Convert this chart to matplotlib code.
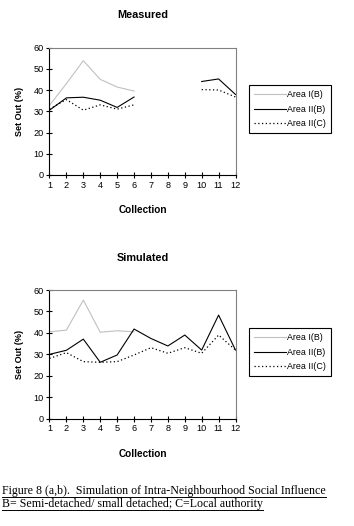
import matplotlib.pyplot as plt
from matplotlib.lines import Line2D
import numpy as np

collections = list(range(1, 13))
nan = np.nan

# Measured
meas_area1_b = [32.8, 43.0, 53.8, 45.0, 41.4, 39.5, nan, nan, nan, nan, nan, nan]
meas_area2_b = [30.5, 36.3, 36.6, 35.2, 31.8, 36.7, nan, nan, nan, 44.0, 45.2, 37.9]
meas_area2_c = [31.0, 35.5, 30.5, 33.0, 31.0, 33.0, nan, nan, nan, 40.2, 40.0, 36.7]

# Simulated
sim_area1_b = [40.5, 41.3, 55.3, 40.3, 41.0, 40.5, nan, nan, nan, nan, nan, nan]
sim_area2_b = [30.0, 31.9, 37.1, 26.3, 29.7, 41.8, 37.4, 33.9, 39.0, 32.0, 48.3, 32.0]
sim_area2_c = [28.1, 30.8, 26.6, 26.3, 26.6, 29.7, 33.1, 30.5, 33.1, 30.5, 39.0, 32.0]

legend_labels = ["Area I(B)", "Area II(B)", "Area II(C)"]

W, H = 354, 526
fig = plt.figure(figsize=(W / 100, H / 100), dpi=100)
plt.rcParams['font.family'] = ['Liberation Sans', 'DejaVu Sans']


def panel(rect, title, s1, s2, s3, legend_top):
    ax = fig.add_axes(rect)
    ax.plot(collections, s1, color='#c0c0c0', lw=0.8, label=legend_labels[0])
    ax.plot(collections, s2, color='black', lw=0.8, label=legend_labels[1])
    ax.plot(collections, s3, color='black', lw=0.9, linestyle=(0, (1, 2)),
            label=legend_labels[2])
    ax.set_xlim(1, 12)
    ax.set_ylim(0, 60)
    ax.set_xticks(collections)
    ax.set_yticks(range(0, 61, 10))
    ax.tick_params(direction='inout', length=4, width=0.8, labelsize=6.6, pad=2)
    ax.spines['top'].set_color('#808080')
    ax.spines['right'].set_color('#808080')
    for s in ax.spines.values():
        s.set_linewidth(0.8)
    ax.set_title(title, fontsize=7.8, fontweight='bold', pad=21)
    ax.set_xlabel('Collection', fontsize=7.2, fontweight='bold', labelpad=11)
    ax.set_ylabel('Set Out (%)', fontsize=6.5, fontweight='bold', labelpad=7)
    leg = ax.legend(loc='upper left', bbox_to_anchor=(249 / W, 1 - legend_top / H),
                    bbox_transform=fig.transFigure, fontsize=6.4, frameon=True,
                    fancybox=False, edgecolor='black', framealpha=1,
                    handlelength=3.6, handletextpad=0.1, borderpad=0.6,
                    labelspacing=0.6, borderaxespad=0)
    leg.get_frame().set_linewidth(0.8)
    return ax


panel([49.5 / W, 1 - 175 / H, 186 / W, 127.5 / H], 'Measured',
      meas_area1_b, meas_area2_b, meas_area2_c, 85)
panel([49.5 / W, 1 - 418.7 / H, 186 / W, 128.7 / H], 'Simulated',
      sim_area1_b, sim_area2_b, sim_area2_c, 328)

caption = ["Figure 8 (a,b).  Simulation of Intra-Neighbourhood Social Influence",
           "B= Semi-detached/ small detached; C=Local authority"]
texts = []
for i, line in enumerate(caption):
    texts.append(fig.text(2 / W, 1 - (494 + 13 * i) / H, line, fontsize=8.6,
                          family='Liberation Serif', va='baseline', ha='left'))

fig.canvas.draw()
r = fig.canvas.get_renderer()
for i, t in enumerate(texts):
    bb = t.get_window_extent(r)
    y = 1 - (496.5 + 13 * i) / H
    fig.add_artist(Line2D([bb.x0 / W, bb.x1 / W], [y, y], color='black', lw=0.7,
                          transform=fig.transFigure))

fig.savefig('out.png', dpi=100)
